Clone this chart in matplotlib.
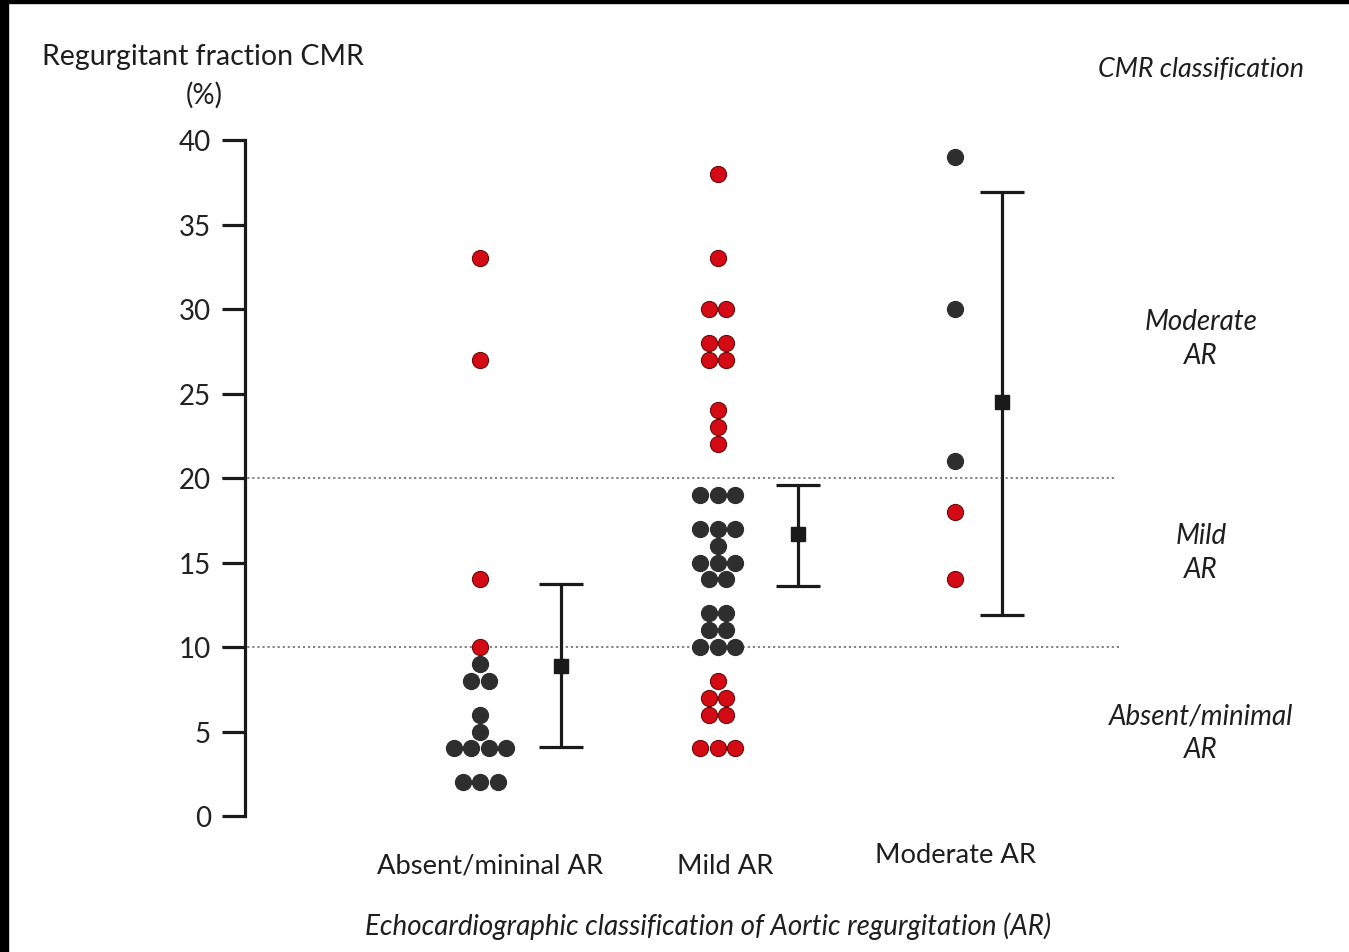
import matplotlib
matplotlib.use('Agg')
import matplotlib.pyplot as plt
from matplotlib.patches import Rectangle

plt.rcParams['font.family'] = ['Lato', 'DejaVu Sans']

# Dane: frakcja niedomykalnosci w CMR (%) dla kazdej grupy echo
categories = ['Absent/mininal AR', 'Mild AR', 'Moderate AR']
absent_vals = [33, 27, 14, 10, 9, 8, 8, 6, 5, 4, 4, 4, 4, 2, 2, 2]
mild_vals = [38, 33, 30, 30, 28, 28, 27, 27, 24, 23, 22,
             19, 19, 19, 17, 17, 17, 16, 15, 15, 15, 14, 14,
             12, 12, 11, 11, 10, 10, 10, 8, 7, 7, 6, 6, 4, 4, 4]
moderate_vals = [39, 30, 21, 18, 14]
groups = [absent_vals, mild_vals, moderate_vals]

# srednia i zakres slupka bledu
means = [8.9, 16.7, 24.5]
lower = [4.1, 13.6, 11.9]
upper = [13.7, 19.6, 36.9]

# progi klasyfikacji CMR
thresholds = [10, 20]
yticks = [0, 5, 10, 15, 20, 25, 30, 35, 40]

W, H = 1349, 953
fig = plt.figure(figsize=(W / 100, H / 100), dpi=100)
ax = fig.add_axes([245 / W, (H - 817) / H, 880 / W, 676 / H])

red = '#d40b14'
dark = '#2e2e2e'
step = 0.074   # odstep kropek w poziomie
bar_off = [0.34, 0.337, 0.2]


def cmr_class(v):
    if v < 10:
        return 0
    if v < 20:
        return 1
    return 2


for gi, vals in enumerate(groups):
    for v in sorted(set(vals)):
        n = vals.count(v)
        for i in range(n):
            x = gi + (i - (n - 1) / 2) * step
            same = cmr_class(v) == gi
            ax.scatter(x, v, s=135, color=dark if same else red,
                       edgecolors=dark if same else '#6b0a0a',
                       linewidths=0.8, zorder=3)

for gi in range(3):
    xb = gi + bar_off[gi]
    ax.errorbar(xb, means[gi],
                yerr=[[means[gi] - lower[gi]], [upper[gi] - means[gi]]],
                fmt='s', color='#1a1a1a', markersize=10, elinewidth=2.3,
                capsize=15.5, capthick=2.3, zorder=4)

for t in thresholds:
    ax.axhline(t, xmin=-0.026, xmax=0.989 if t == 20 else 0.993,
               color='#777777', linestyle=(0, (1.2, 1.6)), linewidth=1.3,
               clip_on=False, zorder=1)

ax.set_xlim(-0.99, 2.716)
ax.set_ylim(0, 40)
for s in ['top', 'right', 'bottom']:
    ax.spines[s].set_visible(False)
ax.spines['left'].set_linewidth(2.3)
ax.spines['left'].set_color('#1a1a1a')
ax.set_xticks([])
ax.set_yticks(yticks)
ax.tick_params(axis='y', direction='out', length=16.5, width=2.3,
               color='#1a1a1a', labelsize=20, pad=8, labelcolor='#222222')

# opisy
def ftext(x, y, s, **kw):
    fig.text(x / W, 1 - y / H, s, ha='center', va='center', color='#1e1e1e', **kw)

ftext(203, 57, 'Regurgitant fraction CMR', fontsize=20.5)
ftext(204, 95, '(%)', fontsize=20)
ftext(1201, 69, 'CMR classification', fontsize=19.4, style='italic')
ftext(1201, 339, 'Moderate\nAR', fontsize=20, style='italic', linespacing=1.37)
ftext(1201, 553, 'Mild\nAR', fontsize=20, style='italic', linespacing=1.37)
ftext(1201, 733, 'Absent/minimal\nAR', fontsize=20, style='italic', linespacing=1.37)
ftext(490, 866, categories[0], fontsize=19.7)
ftext(725, 866, categories[1], fontsize=19.7)
ftext(955, 856, categories[2], fontsize=19.7)
ftext(708, 926, 'Echocardiographic classification of Aortic regurgitation (AR)',
      fontsize=20, style='italic')

# czarna ramka u gory i z lewej
fig.add_artist(Rectangle((0, 1 - 4 / H), 1, 4 / H, transform=fig.transFigure,
                         color='black', zorder=10))
fig.add_artist(Rectangle((0, 0), 8 / W, 1, transform=fig.transFigure,
                         color='black', zorder=10))

fig.savefig('out.png', dpi=100)
